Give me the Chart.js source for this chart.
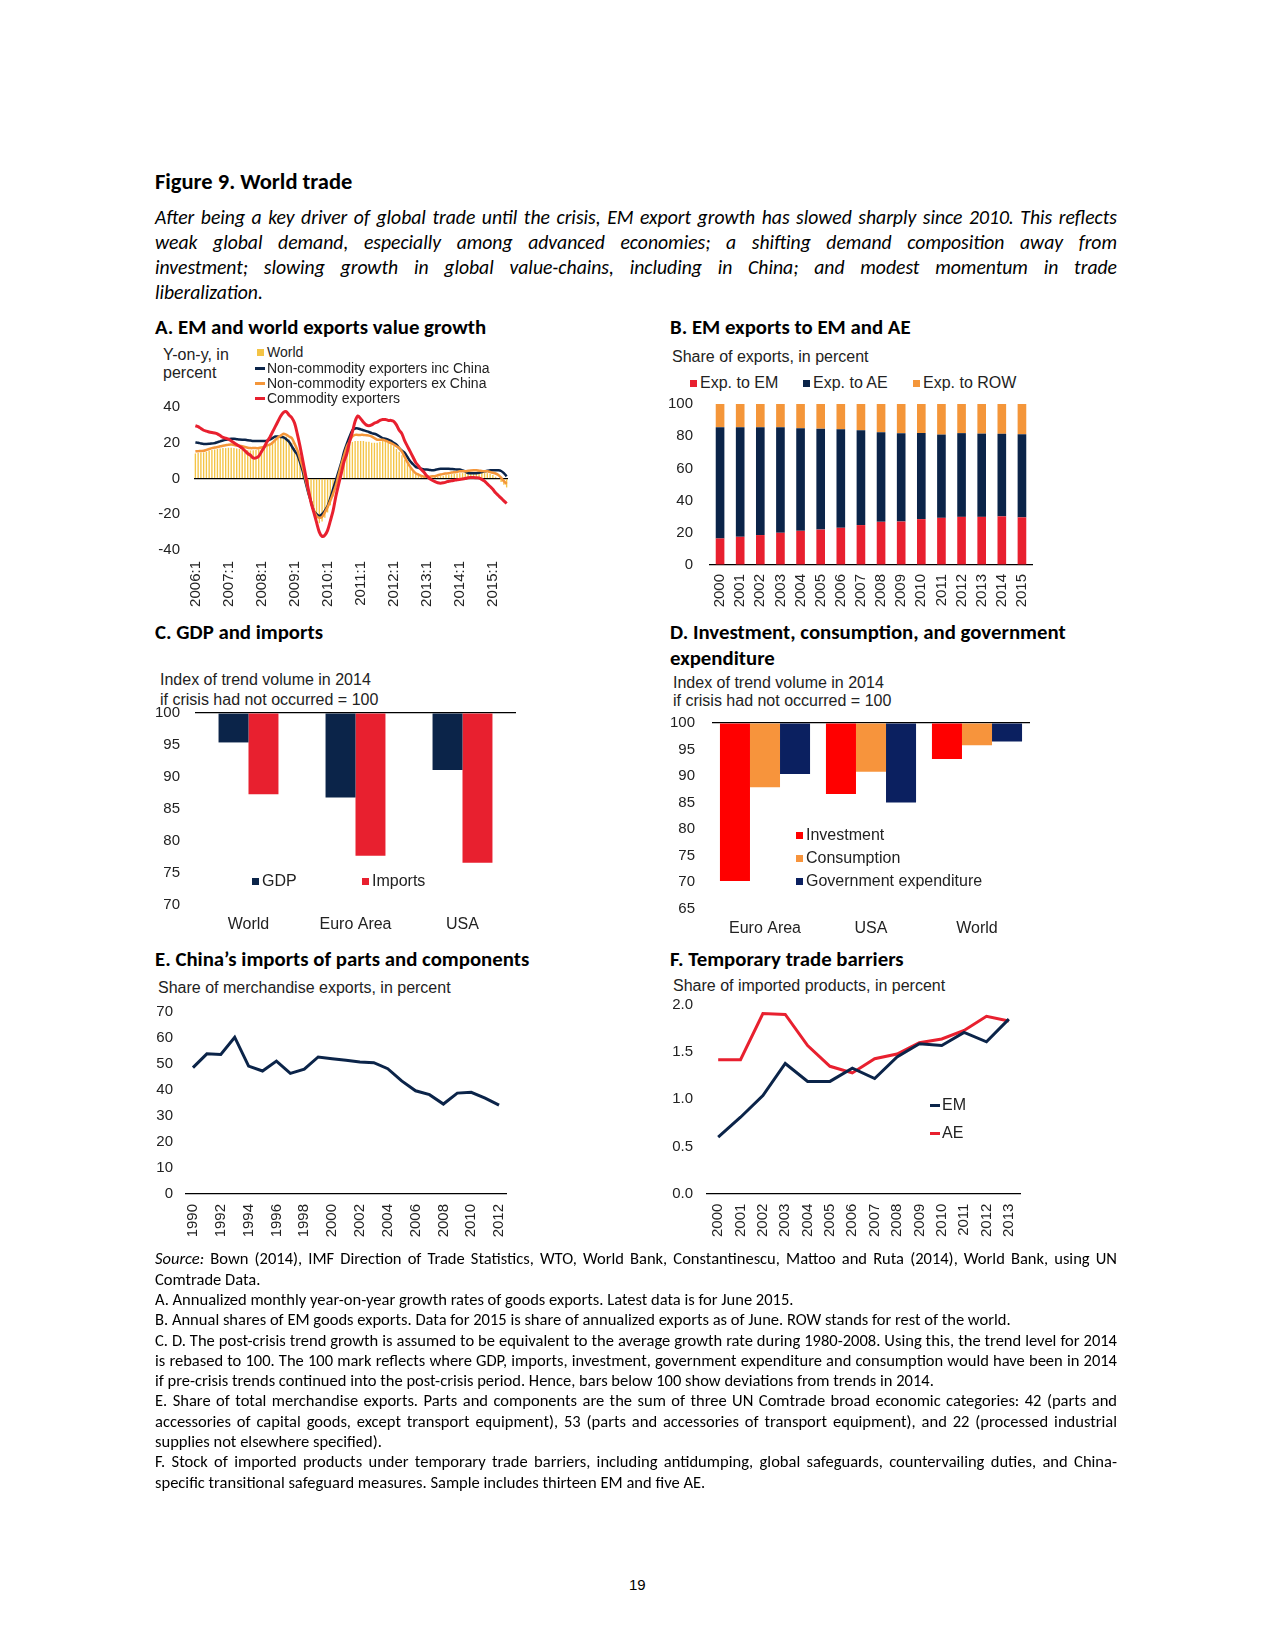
<!DOCTYPE html>
<html>
<head>
<meta charset="utf-8">
<script src="https://cdn.jsdelivr.net/npm/chart.js@4"></script>
<style>
  body { margin: 0; background: #fff; }
  #page { position: relative; width: 1275px; height: 1650px; overflow: hidden; font-family: Carlito, Lato, sans-serif; color: #000; }
  .t { position: absolute; white-space: nowrap; }
  .h { font-weight: bold; font-size: 20.8px; line-height: 24px; }
  .it { position: absolute; left: 155px; width: 962px; font-style: italic; font-size: 19px; line-height: 25.3px; }
  .fn { position: absolute; left: 155px; width: 962px; font-size: 16.5px; line-height: 20.3px; }
  .j { text-align: justify; text-align-last: justify; }
  .sub { position: absolute; white-space: nowrap; font-family: "Liberation Sans", Arial, sans-serif; font-size: 16px; line-height: 18px; color: #222; }
  .lg { position: absolute; display: flex; align-items: center; height: 18px; white-space: nowrap; font-family: "Liberation Sans", Arial, sans-serif; color: #222; }
  .sq { display: inline-block; width: 7px; height: 7px; margin-right: 3px; }
  .ln { display: inline-block; width: 10px; height: 3px; margin-right: 2px; }
  canvas { position: absolute; }
</style>
</head>
<body>
<div id="page">
  <div class="t h" style="left:155px;top:170px;font-size:22.5px;line-height:24px;">Figure 9. World trade</div>
  <div class="it j" id="it1" style="top:204.5px;">After being a key driver of global trade until the crisis, EM export growth has slowed sharply since 2010. This reflects</div>
  <div class="it j" style="top:229.8px;">weak global demand, especially among advanced economies; a shifting demand composition away from</div>
  <div class="it j" style="top:255.1px;">investment; slowing growth in global value-chains, including in China; and modest momentum in trade</div>
  <div class="it" id="it4" style="top:280.4px;">liberalization.</div>

  <div class="t h" style="left:155px;top:315px;">A. EM and world exports value growth</div>
  <div class="t h" style="left:670px;top:315px;">B. EM exports to EM and AE</div>
  <div class="t h" style="left:155px;top:620px;">C. GDP and imports</div>
  <div class="t h" style="left:670px;top:619px;line-height:26px;">D. Investment, consumption, and government<br>expenditure</div>
  <div class="t h" style="left:155px;top:947px;">E. China’s imports of parts and components</div>
  <div class="t h" style="left:670px;top:947px;">F. Temporary trade barriers</div>

  <div class="sub" style="left:163px;top:346px;">Y-on-y, in</div>
  <div class="sub" style="left:163px;top:364px;">percent</div>
  <div class="sub" style="left:672px;top:348px;">Share of exports, in percent</div>
  <div class="sub" style="left:160px;top:671px;">Index of trend volume in 2014</div>
  <div class="sub" style="left:160px;top:691px;">if crisis had not occurred = 100</div>
  <div class="sub" style="left:673px;top:674px;">Index of trend volume in 2014</div>
  <div class="sub" style="left:673px;top:692px;">if crisis had not occurred = 100</div>
  <div class="sub" style="left:158px;top:979px;">Share of merchandise exports, in percent</div>
  <div class="sub" style="left:673px;top:977px;">Share of imported products, in percent</div>

  <canvas id="cA" width="375" height="215" style="left:145px;top:397px;"></canvas>
  <canvas id="cB" width="405" height="222" style="left:640px;top:395px;"></canvas>
  <canvas id="cC" width="380" height="240" style="left:145px;top:703px;"></canvas>
  <canvas id="cD" width="400" height="235" style="left:640px;top:713px;"></canvas>
  <canvas id="cE" width="375" height="250" style="left:145px;top:1000px;"></canvas>
  <canvas id="cF" width="395" height="255" style="left:640px;top:995px;"></canvas>

  <div class="fn j" style="top:1248.3px;"><i>Source:</i> Bown (2014), IMF Direction of Trade Statistics, WTO, World Bank, Constantinescu, Mattoo and Ruta (2014), World Bank, using UN</div>
  <div class="fn" style="top:1268.6px;">Comtrade Data.</div>
  <div class="fn" id="fnA" style="top:1288.9px;">A. Annualized monthly year-on-year growth rates of goods exports. Latest data is for June 2015.</div>
  <div class="fn" id="fnB" style="top:1309.2px;">B. Annual shares of EM goods exports. Data for 2015 is share of annualized exports as of June. ROW stands for rest of the world.</div>
  <div class="fn j" style="top:1329.5px;">C. D. The post-crisis trend growth is assumed to be equivalent to the average growth rate during 1980-2008. Using this, the trend level for 2014</div>
  <div class="fn j" style="top:1349.8px;">is rebased to 100. The 100 mark reflects where GDP, imports, investment, government expenditure and consumption would have been in 2014</div>
  <div class="fn" style="top:1370.1px;">if pre-crisis trends continued into the post-crisis period. Hence, bars below 100 show deviations from trends in 2014.</div>
  <div class="fn j" style="top:1390.4px;">E. Share of total merchandise exports. Parts and components are the sum of three UN Comtrade broad economic categories: 42 (parts and</div>
  <div class="fn j" style="top:1410.7px;">accessories of capital goods, except transport equipment), 53 (parts and accessories of transport equipment), and 22 (processed industrial</div>
  <div class="fn" style="top:1431px;">supplies not elsewhere specified).</div>
  <div class="fn j" style="top:1451.3px;">F. Stock of imported products under temporary trade barriers, including antidumping, global safeguards, countervailing duties, and China-</div>
  <div class="fn" style="top:1471.6px;">specific transitional safeguard measures. Sample includes thirteen EM and five AE.</div>

  <div class="t" style="left:629px;top:1576px;font-family:'Liberation Sans',Arial,sans-serif;font-size:15px;line-height:18px;">19</div>
</div>

<script>
// ---- A: monthly y-on-y export growth, 2006:1 - 2015:6 ----
const aYears = [2006, 2007, 2008, 2009, 2010, 2011, 2012, 2013, 2014, 2015];
const aLastMonth = 6;
const aWorld = [
  14, 14.2, 14.5, 14.6, 15, 15.5, 16, 16.2, 16.5, 16.8, 17, 17,
  17.2, 17.2, 17, 16.8, 16.5, 16.2, 16, 15.8, 15.7, 15.8, 16, 16.3,
  16.8, 17.5, 18.5, 19.5, 20.5, 21.5, 22.5, 23.5, 24, 23.5, 22, 20,
  17, 13, 8, 3, -3, -9, -15, -20, -23, -25, -24, -22,
  -19, -15, -10, -4, 1, 7, 12, 17, 19.5, 20.5, 21, 21,
  21, 21, 20.5, 20.5, 20, 20, 20, 20.5, 21, 21, 20, 19,
  18, 16.5, 15, 13, 10.5, 8, 6, 4, 2.5, 1.5, 0.8, 0.3,
  0, 0.3, 0.6, 0.8, 1, 1.3, 1.6, 2, 2.2, 2.4, 2.6, 2.8,
  3, 3, 3, 3, 3, 3, 3.2, 3.4, 3.2, 3, 3, 2.5,
  2, 1, -0.5, -2, -3.5, -5
];
const aIncChina = [
  20.2, 20, 19.6, 19.3, 19.3, 19.4, 19.6, 19.8, 20.3, 20.8, 21.3, 21.6,
  22, 22.2, 22.2, 22, 21.8, 21.7, 21.7, 21.4, 21.2, 21, 21, 21,
  21, 21, 21.2, 21.8, 22.6, 23.5, 23.5, 23.2, 23, 22, 20.5, 18,
  15.5, 13.3, 9, 4, -2, -8, -13, -18, -20, -21, -20, -18,
  -15.4, -11, -6, -1, 4, 9, 15, 19.5, 23.5, 27, 28, 28,
  27.5, 27, 26.5, 26, 25.4, 25, 24.4, 23.5, 22.6, 22.2, 21.7, 21,
  20, 19, 17, 15.5, 14.3, 12, 9.6, 8, 6.5, 6, 5.5, 5,
  5, 4.8, 4.6, 4.8, 5.2, 5.4, 5.4, 5.4, 5.4, 5.3, 5.2, 5,
  5, 4.5, 4, 3, 3, 3, 3, 3.2, 3.6, 4, 4.3, 4.6,
  4.6, 4.6, 4.6, 4.2, 3, 1.2
];
const aExChina = [
  15.2, 15.3, 15.4, 15.5, 16, 16.5, 17, 17.3, 17.6, 18, 18.3, 18.6,
  18.9, 19, 18.8, 18.5, 18.3, 18, 17.6, 17.2, 17, 17, 17, 17,
  17.3, 17.8, 18.5, 18.9, 20, 21.5, 23, 24, 25, 24.5, 23.5, 22.6,
  19.5, 16, 11, 6, -0.5, -7, -13, -18, -21, -22, -21.5, -19,
  -16, -12.5, -8.5, -4, 2, 7.8, 13, 18, 21, 23.5, 24.4, 24.4,
  24.4, 24.4, 24.2, 24, 23.5, 22.6, 21.7, 21.7, 21.7, 21.2, 20.5, 19.8,
  19, 18, 17, 15, 12, 9, 6.5, 4.5, 3, 2.2, 1.5, 1,
  1, 1, 1.2, 1.3, 1.8, 2.2, 2.6, 2.8, 3, 3.3, 3.5, 3.7,
  4, 4, 4.1, 4.3, 4.5, 4.6, 4.6, 4.4, 4.2, 4, 4, 3.6,
  3.2, 2.8, 2, 0.5, -1.5, -3
];
const aCommodity = [
  29.5, 29, 28, 27, 26.5, 26, 25.7, 25.5, 25, 24, 23, 22.5,
  22, 21, 20, 19, 18, 17, 15.5, 14, 13, 11.5, 11.5, 12.5,
  15, 17.5, 20.5, 23, 26, 29, 32, 35, 37, 37.4, 35.5, 34,
  31, 25, 18, 10, 2, -6, -13.5, -19, -24.6, -30, -32.4, -31.7,
  -29, -23.7, -18, -10, -3.3, 3, 9.6, 14, 20.7, 26, 32, 35,
  33.5, 31.5, 30, 29.5, 30, 31, 31.5, 32.5, 33, 33, 32.5, 32.5,
  32, 30, 27, 25, 21, 18, 15, 12, 9, 7, 5, 3.5,
  1.5, 0, -1, -1.8, -2.4, -2.6, -2.4, -2, -1.5, -1.3, -1, -0.7,
  -0.5, -0.3, 0, 0.4, 0.5, 0.5, 0.4, 0.3, -0.5, -1.5, -3, -4.5,
  -6, -8, -9.5, -11, -12.5, -14
];
const aNames = ["World", "Non-commodity exporters inc China", "Non-commodity exporters ex China", "Commodity exporters"];

// ---- B: EM export shares by destination ----
const bYears = ["2000", "2001", "2002", "2003", "2004", "2005", "2006", "2007", "2008", "2009", "2010", "2011", "2012", "2013", "2014", "2015"];
const bToEM = [16.5, 17.5, 18.6, 20, 21.2, 22, 23.1, 24.8, 26.8, 27, 28.5, 29.3, 29.9, 29.9, 30.2, 29.6];
const bToAE = [69.1, 68.1, 67, 65.6, 63.8, 62.7, 61.2, 58.9, 55.7, 54.9, 53.5, 51.7, 52, 51.7, 51.3, 51.6];
const bToROW = [14.4, 14.4, 14.4, 14.4, 15, 15.3, 15.7, 16.3, 17.5, 18.1, 18, 19, 18.1, 18.4, 18.5, 18.8];
const bNames = ["Exp. to EM", "Exp. to AE", "Exp. to ROW"];

// ---- C: GDP and imports index ----
const cRegions = ["World", "Euro Area", "USA"];
const cGDP = [95.4, 86.8, 91.1];
const cImports = [87.3, 77.7, 76.6];
const cNames = ["GDP", "Imports"];

// ---- D: investment, consumption, government ----
const dRegions = ["Euro Area", "USA", "World"];
const dInvestment = [70.2, 86.6, 93.2];
const dConsumption = [87.9, 90.8, 95.8];
const dGovernment = [90.4, 85, 96.5];
const dNames = ["Investment", "Consumption", "Government expenditure"];

// ---- E: China parts and components ----
const eYears = ["1990", "1991", "1992", "1993", "1994", "1995", "1996", "1997", "1998", "1999", "2000", "2001",
  "2002", "2003", "2004", "2005", "2006", "2007", "2008", "2009", "2010", "2011", "2012"];
const eShare = [48.6, 53.9, 53.7, 60.3, 49.2, 47.3, 51.1, 46.4, 48, 52.7, 52, 51.4,
  50.8, 50.5, 48.2, 43.5, 39.7, 38.2, 34.6, 38.8, 39.1, 36.9, 34.2];

// ---- F: temporary trade barriers ----
const fYears = ["2000", "2001", "2002", "2003", "2004", "2005", "2006", "2007", "2008", "2009", "2010", "2011", "2012", "2013"];
const fEM = [0.6, 0.81, 1.04, 1.38, 1.19, 1.19, 1.33, 1.22, 1.45, 1.59, 1.57, 1.71, 1.61, 1.85];
const fAE = [1.42, 1.42, 1.91, 1.9, 1.57, 1.35, 1.28, 1.43, 1.48, 1.6, 1.64, 1.73, 1.88, 1.83];

const NAVY = "#0b2449", RED = "#e8202f", ORANGE = "#f4963a", YELLOW = "#f4c445";

const aLabels = [];
aYears.forEach(y => {
  const last = y === aYears[aYears.length - 1] ? aLastMonth : 12;
  for (let m = 1; m <= last; m++) aLabels.push(y + ":" + m);
});

const page = document.getElementById("page");

// size the running text so its widths follow the reference lines
function naturalWidth(el) {
  const s = document.createElement("span");
  s.style.cssText = "position:absolute;visibility:hidden;white-space:nowrap;";
  s.style.font = getComputedStyle(el).font;
  s.innerHTML = el.innerHTML;
  page.appendChild(s);
  const w = s.getBoundingClientRect().width;
  s.remove();
  return w;
}
function fitGroup(cls, pairs, maxLine) {
  const els = document.querySelectorAll(cls);
  const size = parseFloat(getComputedStyle(els[0]).fontSize);
  let k = 0;
  pairs.forEach(p => { k += p[1] / naturalWidth(p[0]); });
  let ns = size * k / pairs.length;
  els.forEach(e => { e.style.fontSize = ns + "px"; });
  // keep every justified line on one row
  els.forEach(e => {
    while (naturalWidth(e) > maxLine) { ns -= 0.1; els.forEach(x => { x.style.fontSize = ns + "px"; }); }
  });
}
fitGroup(".it", [[document.getElementById("it4"), 108]], 958);
fitGroup(".fn", [[document.getElementById("fnA"), 648], [document.getElementById("fnB"), 865]], 958);

Chart.defaults.font.family = '"Liberation Sans", Arial, sans-serif';
Chart.defaults.font.size = 15;
Chart.defaults.color = "#222";
Chart.defaults.animation = false;
Chart.defaults.responsive = false;
Chart.defaults.plugins.legend.display = false;
Chart.defaults.plugins.tooltip.enabled = false;

function yAxis(min, max, step, width, pad, lineAt, fmt) {
  return {
    min: min, max: max,
    ticks: { stepSize: step, padding: pad, callback: fmt || (v => v) },
    grid: {
      drawTicks: false, lineWidth: 1.2,
      color: c => (lineAt !== null && c.tick && Math.abs(c.tick.value - lineAt) < 1e-9) ? "#000" : "rgba(0,0,0,0)"
    },
    border: { display: false },
    afterFit: s => { s.width = width; s.paddingTop = 9; s.paddingBottom = 9; }
  };
}

function xAxis(height, rot, pad, cb, baseline) {
  return {
    offset: true,
    grid: { display: false, drawTicks: false },
    border: baseline ? { display: true, color: "#000", width: 1.2 } : { display: false },
    ticks: { autoSkip: false, maxRotation: rot, minRotation: rot, padding: pad, font: { size: rot ? 15 : 16 }, callback: cb },
    afterFit: s => { s.height = height; s.paddingLeft = 0; s.paddingRight = 0; }
  };
}

function legendItem(x, y, label, color, kind, size) {
  const d = document.createElement("div");
  d.className = "lg";
  d.style.left = x + "px";
  d.style.top = (y - 9) + "px";
  d.style.fontSize = size + "px";
  const m = document.createElement("span");
  m.className = kind;
  m.style.background = color;
  d.appendChild(m);
  d.appendChild(document.createTextNode(label));
  page.appendChild(d);
}

// ====== A. EM and world exports value growth ======
new Chart(document.getElementById("cA"), {
  data: {
    labels: aLabels,
    datasets: [
      { type: "line", label: aNames[3], data: aCommodity, borderColor: RED, borderWidth: 3, pointRadius: 0, tension: 0.3, order: 1 },
      { type: "line", label: aNames[2], data: aExChina, borderColor: ORANGE, borderWidth: 2.5, pointRadius: 0, tension: 0.3, order: 2 },
      { type: "line", label: aNames[1], data: aIncChina, borderColor: NAVY, borderWidth: 2.5, pointRadius: 0, tension: 0.3, order: 3 },
      { type: "bar", label: aNames[0], data: aWorld, backgroundColor: YELLOW, barPercentage: 0.5, categoryPercentage: 1, order: 4 }
    ]
  },
  options: {
    layout: { padding: { top: 10, right: 12, left: 0, bottom: 0 } },
    scales: {
      x: xAxis(62, 90, 11, (v, i) => aLabels[i].endsWith(":1") ? aLabels[i] : null, false),
      y: yAxis(-40, 40, 20, 49, 14, 0)
    }
  }
});
legendItem(257, 352, aNames[0], YELLOW, "sq", 14);
legendItem(255, 368, aNames[1], NAVY, "ln", 14);
legendItem(255, 383, aNames[2], ORANGE, "ln", 14);
legendItem(255, 398, aNames[3], RED, "ln", 14);

// ====== B. EM exports to EM and AE ======
new Chart(document.getElementById("cB"), {
  type: "bar",
  data: {
    labels: bYears,
    datasets: [
      { label: bNames[0], data: bToEM, backgroundColor: RED },
      { label: bNames[1], data: bToAE, backgroundColor: NAVY },
      { label: bNames[2], data: bToROW, backgroundColor: ORANGE }
    ]
  },
  options: {
    datasets: { bar: { barPercentage: 0.43, categoryPercentage: 1 } },
    layout: { padding: { top: 9, right: 13 } },
    scales: {
      x: Object.assign(xAxis(52, 90, 9, (v, i) => bYears[i], true), { stacked: true }),
      y: Object.assign(yAxis(0, 100, 20, 70, 17, null), { stacked: true })
    }
  }
});
legendItem(690, 383, bNames[0], RED, "sq", 16);
legendItem(803, 383, bNames[1], NAVY, "sq", 16);
legendItem(913, 383, bNames[2], ORANGE, "sq", 16);

// ====== C. GDP and imports ======
new Chart(document.getElementById("cC"), {
  type: "bar",
  data: {
    labels: cRegions,
    datasets: [
      { label: cNames[0], data: cGDP, backgroundColor: NAVY, base: 100 },
      { label: cNames[1], data: cImports, backgroundColor: RED, base: 100 }
    ]
  },
  options: {
    datasets: { bar: { barPercentage: 1, categoryPercentage: 0.56 } },
    layout: { padding: { top: 10, right: 9 } },
    scales: {
      x: xAxis(38, 0, 10, (v, i) => cRegions[i], false),
      y: yAxis(70, 100, 5, 50, 15, 100)
    }
  }
});
legendItem(252, 881, cNames[0], NAVY, "sq", 16);
legendItem(362, 881, cNames[1], RED, "sq", 16);

// ====== D. Investment, consumption, and government expenditure ======
new Chart(document.getElementById("cD"), {
  type: "bar",
  data: {
    labels: dRegions,
    datasets: [
      { label: dNames[0], data: dInvestment, backgroundColor: "#ff0000", base: 100 },
      { label: dNames[1], data: dConsumption, backgroundColor: "#f7943c", base: 100 },
      { label: dNames[2], data: dGovernment, backgroundColor: "#0b2060", base: 100 }
    ]
  },
  options: {
    datasets: { bar: { barPercentage: 1, categoryPercentage: 0.85 } },
    layout: { padding: { top: 10, right: 10 } },
    scales: {
      x: xAxis(39.5, 0, 10, (v, i) => dRegions[i], false),
      y: yAxis(65, 100, 5, 72, 17, 100)
    }
  }
});
legendItem(796, 835, dNames[0], "#ff0000", "sq", 16);
legendItem(796, 858, dNames[1], "#f7943c", "sq", 16);
legendItem(796, 881, dNames[2], "#0b2060", "sq", 16);

// ====== E. China's imports of parts and components ======
new Chart(document.getElementById("cE"), {
  type: "line",
  data: {
    labels: eYears,
    datasets: [
      { label: "Share", data: eShare, borderColor: NAVY, borderWidth: 3, pointRadius: 0, tension: 0 }
    ]
  },
  options: {
    layout: { padding: { top: 12, right: 14 } },
    scales: {
      x: xAxis(56, 90, 10, (v, i) => i % 2 === 0 ? eYears[i] : null, true),
      y: yAxis(0, 70, 10, 41, 13, null)
    }
  }
});

// ====== F. Temporary trade barriers ======
new Chart(document.getElementById("cF"), {
  type: "line",
  data: {
    labels: fYears,
    datasets: [
      { label: "EM", data: fEM, borderColor: NAVY, borderWidth: 3, pointRadius: 0, tension: 0 },
      { label: "AE", data: fAE, borderColor: RED, borderWidth: 3, pointRadius: 0, tension: 0 }
    ]
  },
  options: {
    layout: { padding: { top: 10, right: 15 } },
    scales: {
      x: xAxis(56.4, 90, 10, (v, i) => fYears[i], true),
      y: yAxis(0, 2, 0.5, 67, 14, null, v => v.toFixed(1))
    }
  }
});
legendItem(930, 1105, "EM", NAVY, "ln", 16);
legendItem(930, 1133, "AE", RED, "ln", 16);
</script>
</body>
</html>
